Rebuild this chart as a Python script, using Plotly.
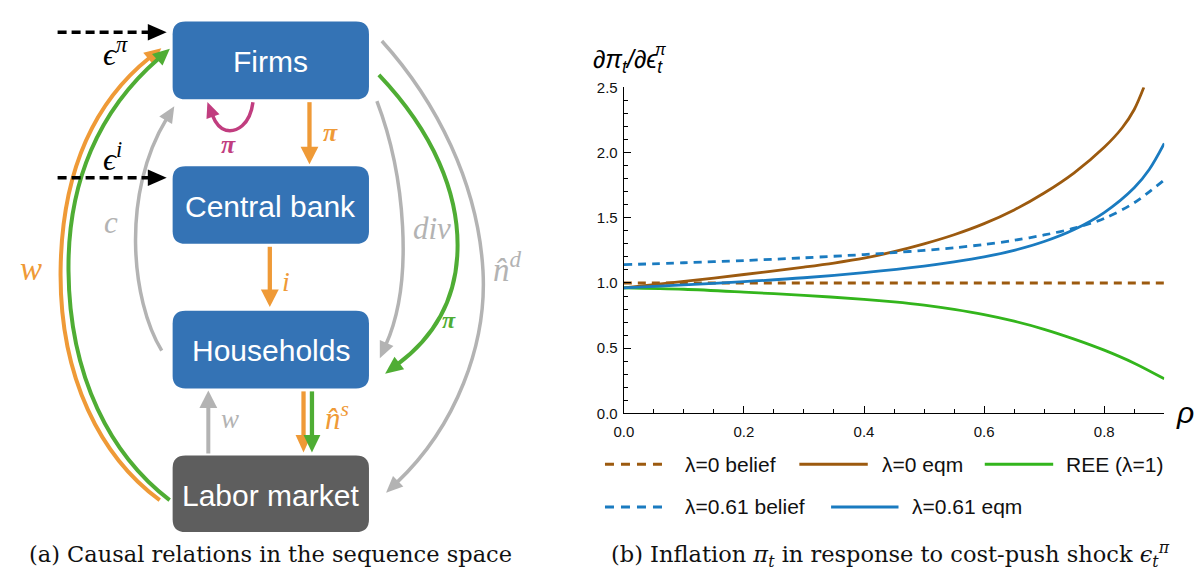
import math
import plotly.graph_objects as go

W, H = 1195, 577

# ---------------- chart data: d pi_t / d eps_t^pi against shock persistence rho ----------------
rho_flat = [0.0, 0.9]
belief_lam0 = [1.0, 1.0]

rho_eqm0 = [0.0, 0.1, 0.2, 0.3, 0.35, 0.4, 0.45, 0.5, 0.55, 0.6, 0.65, 0.7, 0.75, 0.8, 0.83, 0.85, 0.866]
eqm_lam0 = [0.963, 1.012, 1.065, 1.122, 1.153, 1.19, 1.24, 1.30, 1.37, 1.455, 1.56, 1.69, 1.845, 2.04, 2.19, 2.33, 2.5]

rho_common = [0.0, 0.1, 0.2, 0.3, 0.4, 0.45, 0.5, 0.55, 0.6, 0.65, 0.7, 0.75, 0.8, 0.85, 0.9]
ree = [0.963, 0.952, 0.93, 0.905, 0.875, 0.855, 0.83, 0.797, 0.757, 0.707, 0.645, 0.57, 0.485, 0.385, 0.265]
belief_lam61 = [1.14, 1.155, 1.172, 1.193, 1.218, 1.233, 1.25, 1.27, 1.295, 1.327, 1.368, 1.42, 1.495, 1.615, 1.79]

rho_eqm61 = [0.0, 0.1, 0.2, 0.3, 0.4, 0.5, 0.55, 0.6, 0.65, 0.7, 0.75, 0.8, 0.85, 0.875, 0.9]
eqm_lam61 = [0.963, 0.985, 1.01, 1.04, 1.08, 1.13, 1.162, 1.20, 1.25, 1.318, 1.41, 1.54, 1.73, 1.87, 2.07]

x_ticks = [0.0, 0.2, 0.4, 0.6, 0.8]
y_ticks = [0.0, 0.5, 1.0, 1.5, 2.0, 2.5]

BROWN = "#9c5a0f"
BLUE = "#1a7bc0"
GREEN = "#33b51c"

series = [
    ("λ=0 belief", rho_flat, belief_lam0, BROWN, "8px,6px"),
    ("λ=0 eqm", rho_eqm0, eqm_lam0, BROWN, "solid"),
    ("REE (λ=1)", rho_common, ree, GREEN, "solid"),
    ("λ=0.61 belief", rho_common, belief_lam61, BLUE, "8px,6px"),
    ("λ=0.61 eqm", rho_eqm61, eqm_lam61, BLUE, "solid"),
]

fig = go.Figure()
for name, xs, ys, color, dash in series:
    fig.add_trace(go.Scatter(
        x=xs, y=ys, name=name, mode="lines",
        line=dict(color=color, width=2.8, dash=dash, shape="spline", smoothing=0.9),
        hoverinfo="skip", showlegend=False,
    ))

# ---------------- pixel helpers (origin top-left of the figure) ----------------
def fx(x):
    return x / W

def fy(y):
    return 1 - y / H

def P(x, y):
    return f"{fx(x):.5f},{fy(y):.5f}"

# plot area in pixels
PX0, PX1, PY_TOP, PY_BOT = 619, 1164, 80.7, 416.7

axis_common = dict(
    showgrid=False, zeroline=False, showline=True, linecolor="black", linewidth=1.2,
    ticks="inside", ticklen=7, tickwidth=1, tickcolor="black",
    tickfont=dict(family="Liberation Sans, Arial, sans-serif", size=15, color="#111"),
    tickformat=".1f", fixedrange=True,
)
fig.update_layout(
    width=W, height=H,
    margin=dict(l=0, r=0, t=0, b=0, pad=0),
    paper_bgcolor="white", plot_bgcolor="white",
    showlegend=False,
    xaxis=dict(domain=[fx(PX0), fx(PX1)], range=[0, 0.9], tickvals=x_ticks,
               ticklabelstandoff=4,
               minor=dict(dtick=0.05, ticks="inside", ticklen=4, tickcolor="black"),
               **axis_common),
    yaxis=dict(domain=[fy(PY_BOT), fy(PY_TOP)], range=[0, 2.5], tickvals=y_ticks,
               ticklabelstandoff=2,
               minor=dict(dtick=0.1, ticks="inside", ticklen=4, tickcolor="black"),
               **axis_common),
)

shapes = []
annotations = []

def text(x, y, s, size, color="black", family="Liberation Serif, serif", xanchor="center"):
    annotations.append(dict(
        x=fx(x), y=fy(y), xref="paper", yref="paper", text=s, showarrow=False,
        xanchor=xanchor, yanchor="middle", font=dict(family=family, size=size, color=color),
    ))

def rounded_box(x0, y0, x1, y1, r, fill):
    d = (f"M {P(x0 + r, y0)} L {P(x1 - r, y0)} Q {P(x1, y0)} {P(x1, y0 + r)} "
         f"L {P(x1, y1 - r)} Q {P(x1, y1)} {P(x1 - r, y1)} "
         f"L {P(x0 + r, y1)} Q {P(x0, y1)} {P(x0, y1 - r)} "
         f"L {P(x0, y0 + r)} Q {P(x0, y0)} {P(x0 + r, y0)} Z")
    shapes.append(dict(type="path", path=d, xref="paper", yref="paper",
                       fillcolor=fill, line=dict(width=0), layer="above"))

def stroke(d, color, width, dash="solid"):
    shapes.append(dict(type="path", path=d, xref="paper", yref="paper",
                       line=dict(color=color, width=width, dash=dash), layer="above"))

def head(bx, by, dx, dy, color, length=15, half=7.5):
    n = math.hypot(dx, dy)
    ux, uy = dx / n, dy / n
    px, py = -uy, ux
    sx, sy = bx - ux * 2, by - uy * 2
    tx, ty = bx + ux * length, by + uy * length
    d = (f"M {P(tx, ty)} L {P(sx + px * half, sy + py * half)} "
         f"L {P(sx - px * half, sy - py * half)} Z")
    shapes.append(dict(type="path", path=d, xref="paper", yref="paper",
                       fillcolor=color, line=dict(width=0), layer="above"))

def curve(pts, color, width, **kw):
    # pts: start point then groups of three (c1, c2, end) for cubic segments
    d = f"M {P(*pts[0])}"
    for i in range(1, len(pts), 3):
        d += f" C {P(*pts[i])} {P(*pts[i + 1])} {P(*pts[i + 2])}"
    stroke(d, color, width)
    c2, end = pts[-2], pts[-1]
    head(end[0], end[1], end[0] - c2[0], end[1] - c2[1], color, **kw)

def straight(x0, y0, x1, y1, color, width, dash="solid", **kw):
    stroke(f"M {P(x0, y0)} L {P(x1, y1)}", color, width, dash)
    head(x1, y1, x1 - x0, y1 - y0, color, **kw)

ORANGE = "#ef9a37"
DGREEN = "#4fad34"
GRAY = "#b3b3b3"
MAGENTA = "#c13d7f"
BOXBLUE = "#3473b5"
BOXGRAY = "#5e5e5e"

# ---------------- diagram (a) ----------------
# feedback arcs drawn first so boxes sit on top
curve([(151, 506), (92, 462), (50, 380), (51, 270), (52, 175), (80, 100), (141, 50)],
      ORANGE, 4, length=15, half=8)
curve([(161, 506), (102, 460), (60, 380), (59, 270), (58, 178), (90, 104), (150, 51)],
      DGREEN, 4, length=15, half=8)
curve([(153, 352), (122, 300), (112, 190), (158, 113)], GRAY, 3.5, length=15, half=7.5)
curve([(370, 95), (398, 170), (408, 280), (379, 346)], GRAY, 3.5, length=15, half=7.5)
curve([(375, 33), (430, 95), (472, 180), (477, 270), (481, 345), (450, 430), (390, 488)],
      GRAY, 3.5, length=15, half=7.5)
curve([(372, 68), (425, 125), (455, 190), (451, 255), (448, 305), (425, 340), (391, 366)],
      DGREEN, 4, length=16, half=8)
curve([(245, 96), (242, 120), (228, 127), (218, 125), (211, 123), (207, 117), (204, 109)],
      MAGENTA, 3.5, length=14, half=7)

# straight causal links
straight(302, 96, 302, 144, ORANGE, 4.3, length=16, half=9)
straight(262, 245, 262, 291, ORANGE, 4.3, length=16, half=9)
straight(200, 458, 200, 409, GRAY, 4, length=16, half=9)
straight(296, 394, 296, 441, ORANGE, 4.3, length=16, half=8)
straight(304.5, 394, 304.5, 441, DGREEN, 4.3, length=16, half=8.5)

# exogenous shocks
straight(48, 24, 141, 24, "black", 3.5, dash="9px,5px", length=17, half=8.5)
straight(48, 174, 141, 174, "black", 3.5, dash="9px,5px", length=17, half=8.5)

rounded_box(164, 13, 362, 93, 13, BOXBLUE)
rounded_box(164, 162, 362, 242, 13, BOXBLUE)
rounded_box(164, 311, 362, 391, 13, BOXBLUE)
rounded_box(164, 460, 362, 539, 13, BOXGRAY)

BOXFONT = "Liberation Sans, Arial, sans-serif"
text(263, 54, "Firms", 30, "white", BOXFONT)
text(263, 203, "Central bank", 30, "white", BOXFONT)
text(263, 352, "Households", 30, "white", BOXFONT)
text(263, 501, "Labor market", 30, "white", BOXFONT)

text(106, 44, "<i>ϵ</i><sup><i>π</i></sup>", 32)
text(103, 152, "<i>ϵ</i><sup><i>i</i></sup>", 32)
text(21, 268, "<i>w</i>", 33, ORANGE)
text(102, 220, "<i>c</i>", 31, GRAY)
text(220, 140, "<b><i>π</i></b>", 26, MAGENTA)
text(323, 127, "<b><i>π</i></b>", 26, ORANGE)
text(278, 281, "<i>i</i>", 28, ORANGE)
text(222, 422, "<i>w</i>", 27, GRAY)
text(330, 420, "<i>n̂</i><sup><i>s</i></sup>", 31, ORANGE)
text(426, 226, "<i>div</i>", 31, GRAY)
text(443, 320, "<b><i>π</i></b>", 24, DGREEN)
text(502, 266, "<i>n̂</i><sup><i>d</i></sup>", 33, GRAY)

# ---------------- chart (b) labels ----------------
SANS = "Liberation Sans, Arial, sans-serif"
text(586, 54, "<i>∂π<sub>t</sub>/∂ϵ<sub>t</sub></i>", 25, "black", SANS, xanchor="left")
text(656, 42, "<i>π</i>", 16, "black", SANS)
text(1185, 416, "<i>ρ</i>", 30, "black", SANS)

# legend, two rows beneath the axes
legend_layout = [(600, 661, 679, 469), (796, 865, 877, 469), (983, 1052, 1063, 469),
                 (600, 662, 679, 513), (828, 896, 908, 513)]
for (name, _, _, color, dash), (lx0, lx1, tx, ly) in zip(series, legend_layout):
    stroke(f"M {P(lx0, ly)} L {P(lx1, ly)}", color, 3, "9px,7px" if dash != "solid" else "solid")
    text(tx, ly, name, 21, "#111", SANS, xanchor="left")

# captions
SERIF = "DejaVu Serif, serif"
text(263, 562, "(a) Causal relations in the sequence space", 22.5, "#111", SERIF)
text(604, 562, "(b) Inflation <i>π<sub>t</sub></i> in response to cost-push shock "
     "<i>ϵ<sub>t</sub></i><sup><i>π</i></sup>", 22.5, "#111", SERIF, xanchor="left")

fig.update_layout(shapes=shapes, annotations=annotations)
fig.write_html("out.html", config={"displayModeBar": False})
